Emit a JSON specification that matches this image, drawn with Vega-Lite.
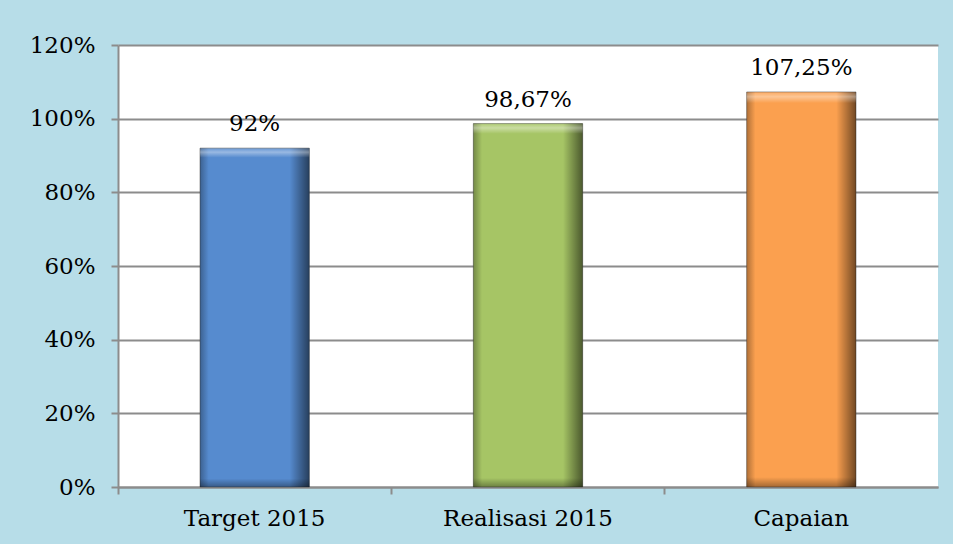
{
  "$schema": "https://vega.github.io/schema/vega-lite/v6.json",
  "width": 820,
  "height": 442,
  "autosize": {"type": "none"},
  "padding": {"left": 118, "top": 45, "right": 15, "bottom": 57},
  "background": "#b7dde8",
  "config": {
    "view": {"fill": "white", "stroke": null},
    "font": "DejaVu Serif"
  },
  "data": {
    "values": [
      {"category": "Target 2015", "value": 0.92, "label": "92%"},
      {"category": "Realisasi 2015", "value": 0.9867, "label": "98,67%"},
      {"category": "Capaian", "value": 1.0725, "label": "107,25%"}
    ]
  },
  "encoding": {
    "x": {
      "field": "category",
      "type": "nominal",
      "sort": null,
      "scale": {"paddingInner": 0.6, "paddingOuter": 0.3},
      "axis": {
        "title": null,
        "labelAngle": 0,
        "labelFont": "DejaVu Serif",
        "labelFontSize": 23,
        "labelColor": "black",
        "labelPadding": 13,
        "bandPosition": -0.75,
        "tickColor": "#8c8c8c",
        "tickWidth": 2,
        "tickSize": 7,
        "domainColor": "#8c8c8c",
        "domainWidth": 2
      }
    },
    "y": {
      "field": "value",
      "type": "quantitative",
      "scale": {"domain": [0, 1.2], "nice": false},
      "axis": {
        "title": null,
        "values": [0, 0.2, 0.4, 0.6, 0.8, 1.0, 1.2],
        "format": ".0%",
        "labelFont": "DejaVu Serif",
        "labelFontSize": 23,
        "labelColor": "black",
        "labelPadding": 16,
        "tickColor": "#8c8c8c",
        "tickWidth": 2,
        "tickSize": 7,
        "domainColor": "#8c8c8c",
        "domainWidth": 2,
        "grid": true,
        "gridColor": "#8c8c8c",
        "gridWidth": 2
      }
    }
  },
  "layer": [
    {
      "mark": {"type": "bar", "stroke": "#3a3a3a", "strokeWidth": 0.8, "strokeOpacity": 0.6},
      "encoding": {
        "color": {
          "field": "category",
          "type": "nominal",
          "sort": null,
          "scale": {"range": ["#568bcf", "#a6c565", "#fba04f"]},
          "legend": null
        }
      }
    },
    {
      "mark": {
        "type": "bar",
        "fill": {
          "gradient": "linear",
          "x1": 0, "x2": 1, "y1": 0, "y2": 0,
          "stops": [
            {"offset": 0, "color": "rgba(0,0,0,0.3)"},
            {"offset": 0.08, "color": "rgba(0,0,0,0)"},
            {"offset": 0.82, "color": "rgba(0,0,0,0)"},
            {"offset": 1, "color": "rgba(0,0,0,0.55)"}
          ]
        }
      }
    },
    {
      "mark": {
        "type": "bar",
        "fill": {
          "gradient": "linear",
          "x1": 0, "x2": 0, "y1": 0, "y2": 1,
          "stops": [
            {"offset": 0, "color": "rgba(255,255,255,0.1)"},
            {"offset": 0.012, "color": "rgba(255,255,255,0.4)"},
            {"offset": 0.028, "color": "rgba(255,255,255,0)"},
            {"offset": 0.975, "color": "rgba(0,0,0,0)"},
            {"offset": 1, "color": "rgba(0,0,0,0.35)"}
          ]
        }
      }
    },
    {
      "mark": {
        "type": "text",
        "baseline": "alphabetic",
        "dy": -17,
        "font": "DejaVu Serif",
        "fontSize": 23,
        "color": "black"
      },
      "encoding": {"text": {"field": "label"}}
    }
  ]
}
